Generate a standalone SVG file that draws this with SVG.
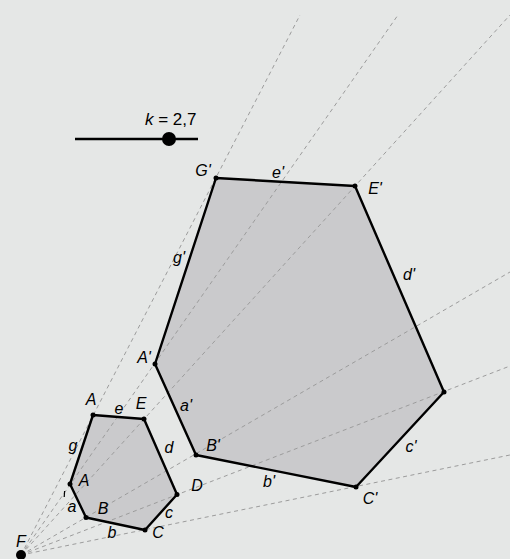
<svg xmlns="http://www.w3.org/2000/svg" width="510" height="559" viewBox="0 0 510 559">
<style>
.bg{fill:#e5e7e6}
.poly{fill:#cacacc;stroke:none}
.edge{fill:none;stroke:#000;stroke-width:2.4;stroke-linejoin:round}
.ray{stroke:#9c9c9c;stroke-width:1;stroke-dasharray:4 3.5;fill:none}
.pt{fill:#000}
.lbl{font-family:"Liberation Sans",Arial,sans-serif;font-style:italic;font-size:16px;fill:#000;text-anchor:middle}
</style>
<rect class="bg" x="0" y="0" width="510" height="559"/>
<g id="fills">
<polygon class="poly" points="93,415 144,419 177,494.5 145,530 86,517.5 70,484"/>
<polygon class="poly" points="216,178 355,186 444,392 356,487 196,455 155,364"/>
</g>
<g id="connectors">
<line class="ray" x1="21" y1="555" x2="300" y2="15"/>
<line class="ray" x1="21" y1="555" x2="398" y2="15"/>
<line class="ray" x1="21" y1="555" x2="510" y2="15"/>
<line class="ray" x1="21" y1="555" x2="510" y2="272"/>
<line class="ray" x1="21" y1="555" x2="510" y2="366"/>
<line class="ray" x1="21" y1="555" x2="510" y2="455"/>
</g>
<g id="small-hexagon">
<polygon class="edge" points="93,415 144,419 177,494.5 145,530 86,517.5 70,484"/>
<circle class="pt" cx="93" cy="415" r="2.5"/>
<circle class="pt" cx="144" cy="419" r="2.5"/>
<circle class="pt" cx="177" cy="494.5" r="2.5"/>
<circle class="pt" cx="145" cy="530" r="2.5"/>
<circle class="pt" cx="86" cy="517.5" r="2.5"/>
<circle class="pt" cx="70" cy="484" r="2.5"/>
<text class="lbl" x="91" y="405">A</text>
<text class="lbl" x="119" y="414">e</text>
<text class="lbl" x="141" y="409">E</text>
<text class="lbl" x="73" y="451">g</text>
<text class="lbl" x="169" y="453">d</text>
<text class="lbl" x="84" y="486">A</text>
<line x1="64.6" y1="491" x2="64.2" y2="497" stroke="#000" stroke-width="1.2"/>
<text class="lbl" x="72" y="512">a</text>
<text class="lbl" x="103" y="514">B</text>
<text class="lbl" x="169" y="518">c</text>
<text class="lbl" x="197" y="491">D</text>
<text class="lbl" x="112" y="538">b</text>
<text class="lbl" x="158" y="538">C</text>
</g>
<g id="large-hexagon">
<polygon class="edge" points="216,178 355,186 444,392 356,487 196,455 155,364"/>
<circle class="pt" cx="216" cy="178" r="2.5"/>
<circle class="pt" cx="355" cy="186" r="2.5"/>
<circle class="pt" cx="444" cy="392" r="2.5"/>
<circle class="pt" cx="356" cy="487" r="2.5"/>
<circle class="pt" cx="196" cy="455" r="2.5"/>
<circle class="pt" cx="155" cy="364" r="2.5"/>
<text class="lbl" x="203" y="176">G'</text>
<text class="lbl" x="278" y="178">e'</text>
<text class="lbl" x="375" y="194">E'</text>
<text class="lbl" x="179" y="263">g'</text>
<text class="lbl" x="409" y="280">d'</text>
<text class="lbl" x="144" y="363">A'</text>
<text class="lbl" x="186" y="411">a'</text>
<text class="lbl" x="213" y="451">B'</text>
<text class="lbl" x="269" y="487">b'</text>
<text class="lbl" x="370" y="504">C'</text>
<text class="lbl" x="411" y="452">c'</text>
</g>
<g id="center-F">
<circle class="pt" cx="21" cy="555" r="5"/>
<text class="lbl" x="21" y="547">F</text>
</g>
<g id="slider">
<line x1="75" y1="139" x2="198" y2="139" stroke="#000" stroke-width="2.7"/>
<circle class="pt" cx="169" cy="139" r="7"/>
<text x="145" y="125" font-family="Liberation Sans, Arial, sans-serif" font-size="17" fill="#000"><tspan font-style="italic">k</tspan> = 2,7</text>
</g>
</svg>
